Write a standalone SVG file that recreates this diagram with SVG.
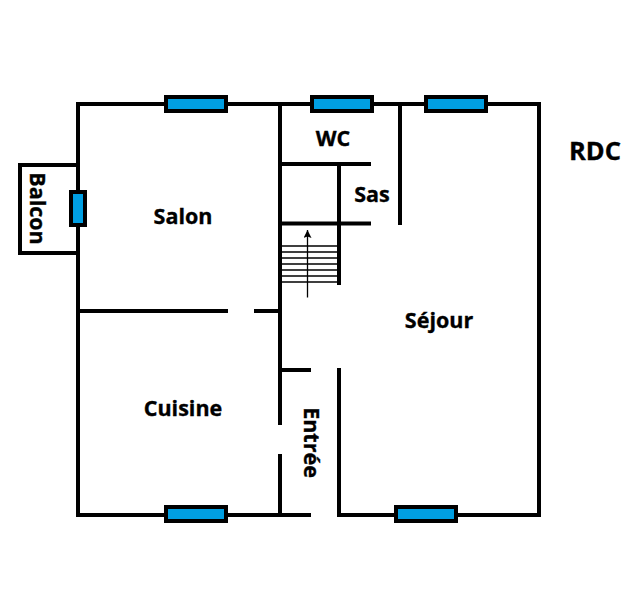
<svg xmlns="http://www.w3.org/2000/svg" width="638" height="612" viewBox="0 0 638 612">
<style>
.wall{fill:none;stroke:#000;stroke-width:4}
.step{fill:none;stroke:#000;stroke-width:1.6}
.win{fill:#009fe3;stroke:#000;stroke-width:4}
text{font-family:"Open Sans","Noto Sans",sans-serif;font-weight:700;fill:#000;stroke:#000;stroke-width:.35;text-anchor:middle}
.l{font-size:21.500px}
.t{font-size:25.500px}
</style>
<defs><marker id="a" markerUnits="userSpaceOnUse" markerWidth="9" markerHeight="9" refX="8" refY="4" orient="auto"><path d="M0 0L8 4L0 8L1.500 4Z" fill="#000"/></marker></defs>
<rect width="638" height="612" fill="#fff"/>
<g id="connectors">
<path class="wall" d="M311 515H78V104H539V515H339V368"/>
<path class="wall" d="M78 165H20V253H78"/>
<path class="wall" d="M280 104V425M280 454V515"/>
<path class="wall" d="M78 311H228M254 311H280"/>
<path class="wall" d="M280 164H371M280 223.500H371"/>
<path class="wall" d="M339 164V285M400 104V225M280 370H311"/>
<path class="step" d="M282 246H338M282 252H338M282 258H338M282 264H338M282 270H338M282 276H338M282 282H338"/>
<path d="M307.500 297.500V230" fill="none" stroke="#000" stroke-width="1.300" marker-end="url(#a)"/>
</g>
<g id="window-1"><rect class="win" x="166" y="97" width="60" height="14"/></g>
<g id="window-2"><rect class="win" x="312" y="97" width="60" height="14"/></g>
<g id="window-3"><rect class="win" x="426" y="97" width="60" height="14"/></g>
<g id="window-4"><rect class="win" x="71" y="192" width="14" height="33"/></g>
<g id="window-5"><rect class="win" x="166" y="507" width="60" height="14"/></g>
<g id="window-6"><rect class="win" x="396" y="507" width="60" height="14"/></g>
<g id="wc"><text class="l" x="333" y="145.500">WC</text></g>
<g id="sas"><text class="l" x="372" y="202">Sas</text></g>
<g id="salon"><text class="l" x="183" y="224">Salon</text></g>
<g id="sejour"><text class="l" x="439" y="328">Séjour</text></g>
<g id="cuisine"><text class="l" x="183" y="416">Cuisine</text></g>
<g id="entree"><text class="l" transform="translate(303.500 442.500) rotate(90)">Entrée</text></g>
<g id="balcon"><text class="l" transform="translate(29.500 208.500) rotate(90)">Balcon</text></g>
<g id="rdc"><text class="t" x="595" y="159.500">RDC</text></g>
</svg>
